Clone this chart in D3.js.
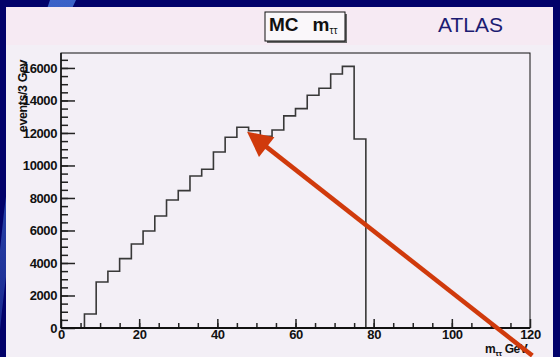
<!DOCTYPE html>
<html>
<head>
<meta charset="utf-8">
<script src="https://cdn.jsdelivr.net/npm/d3@7"></script>
<style>
  html, body { margin: 0; padding: 0; background: #02026a; }
  svg { display: block; }
  .tick-label { font-family: "Liberation Sans", Arial, sans-serif; font-weight: bold; font-size: 13px; fill: #111; letter-spacing: -0.4px; }
  .axis path { display: none; }
  .axis line { stroke: #222; stroke-width: 1.5; }
  .hist { fill: none; stroke: #383838; stroke-width: 1.6; }
</style>
</head>
<body>
<script>
// histogram bins (low edge, GeV) and contents, events / 3 GeV
const binLow = [6, 9, 12, 15, 18, 21, 24, 27, 30, 33, 36, 39, 42, 45, 48, 51, 54, 57, 60, 63, 66, 69, 72, 75];
const binWidth = 3;
const counts = [860, 2830, 3490, 4270, 5170, 5970, 6890, 7880, 8450, 9350, 9770, 10830,
                11740, 12350, 12140, 11790, 12180, 13050, 13500, 14320, 14750, 15630, 16100, 11630];

const xMajor = [0, 20, 40, 60, 80, 100, 120];
const yMajor = [0, 2000, 4000, 6000, 8000, 10000, 12000, 14000, 16000];

// arrow, in data units: from the tail (below the axis) to the tip at the 45-48 GeV bin
const arrowFrom = [120.6, -1700];
const arrowTo = [47.6, 12080];

const W = 560, H = 357;
const plot = { left: 61, right: 530, top: 53, bottom: 328 };

const x = d3.scaleLinear().domain([0, 120]).range([plot.left, plot.right]);
const y = d3.scaleLinear().domain([0, 16920]).range([plot.bottom, plot.top]);

const svg = d3.select("body").append("svg")
  .attr("width", W)
  .attr("height", H);

const defs = svg.append("defs");
const swoosh = defs.append("linearGradient").attr("id", "swoosh")
  .attr("x1", 0).attr("y1", 0).attr("x2", 0).attr("y2", 1);
swoosh.append("stop").attr("offset", 0).attr("stop-color", "#3a62c8");
swoosh.append("stop").attr("offset", 1).attr("stop-color", "#1a2a90");

// slide background
svg.append("rect").attr("width", W).attr("height", H).attr("fill", "#02026a");
svg.append("path")
  .attr("d", "M50,0 L76,0 Q22,110 0,330 L0,250 Q14,100 50,0 Z")
  .attr("fill", "url(#swoosh)");

// canvas
svg.append("rect")
  .attr("x", 6).attr("y", 7).attr("width", 547).attr("height", H - 7)
  .attr("fill", "#f3eff6");
svg.append("rect")
  .attr("x", 6).attr("y", 7).attr("width", 547).attr("height", 38)
  .attr("fill", "#f6eaf3");

// frame
svg.append("rect")
  .attr("x", plot.left).attr("y", plot.top)
  .attr("width", plot.right - plot.left).attr("height", plot.bottom - plot.top)
  .attr("fill", "none").attr("stroke", "#111").attr("stroke-width", 1);

// histogram
const pts = [[binLow[0], 0]]
  .concat(binLow.map((b, i) => [b, counts[i]]))
  .concat([[binLow[binLow.length - 1] + binWidth, 0]]);

svg.append("path")
  .datum(pts)
  .attr("class", "hist")
  .attr("d", d3.line().x(d => x(d[0])).y(d => y(d[1])).curve(d3.curveStepAfter));

// y axis
svg.append("g")
  .attr("class", "axis")
  .attr("transform", `translate(${plot.left},0)`)
  .call(d3.axisLeft(y).tickValues(d3.range(500, 16600, 500)).tickSize(-7).tickFormat(""));
const yAxis = svg.append("g")
  .attr("class", "axis")
  .attr("transform", `translate(${plot.left},0)`)
  .call(d3.axisLeft(y).tickValues(yMajor).tickSize(-14).tickPadding(4).tickFormat(d3.format("d")));
yAxis.selectAll("text").attr("class", "tick-label").attr("fill", null);

// x axis
svg.append("g")
  .attr("class", "axis")
  .attr("transform", `translate(0,${plot.bottom})`)
  .call(d3.axisBottom(x).tickValues(d3.range(5, 120, 5)).tickSize(-5).tickFormat(""));
const xAxis = svg.append("g")
  .attr("class", "axis")
  .attr("transform", `translate(0,${plot.bottom})`)
  .call(d3.axisBottom(x).tickValues(xMajor).tickSize(-9).tickPadding(2));
xAxis.selectAll("text").attr("class", "tick-label").attr("fill", null);

// thicker axis lines
svg.append("line")
  .attr("x1", plot.left).attr("x2", plot.right)
  .attr("y1", plot.bottom).attr("y2", plot.bottom)
  .attr("stroke", "#111").attr("stroke-width", 2);
svg.append("line")
  .attr("x1", plot.left).attr("x2", plot.left)
  .attr("y1", plot.top).attr("y2", plot.bottom)
  .attr("stroke", "#111").attr("stroke-width", 1.5);

// axis titles
svg.append("text")
  .attr("class", "tick-label")
  .attr("transform", "translate(27,96) rotate(-90)")
  .attr("text-anchor", "middle")
  .style("font-size", "12.5px")
  .text("events/3 Gev");

const xt = svg.append("text")
  .attr("class", "tick-label")
  .attr("x", 485).attr("y", 353)
  .style("font-size", "12px");
xt.append("tspan").text("m");
xt.append("tspan").attr("dy", 3).style("font-size", "8px").text("ττ");
xt.append("tspan").attr("dy", -3).attr("dx", 3).text("GeV");

// title box
svg.append("rect")
  .attr("x", 267).attr("y", 14).attr("width", 80).attr("height", 29)
  .attr("fill", "#666");
svg.append("rect")
  .attr("x", 265).attr("y", 12).attr("width", 80).attr("height", 29)
  .attr("fill", "#faf7fa").attr("stroke", "#111").attr("stroke-width", 1);
const title = svg.append("text")
  .attr("x", 269).attr("y", 31)
  .style("font-family", "'Liberation Sans', Arial, sans-serif")
  .style("font-weight", "bold")
  .style("font-size", "19px")
  .attr("fill", "#111");
title.append("tspan").text("MC");
title.append("tspan").attr("dx", 14).text("m");
title.append("tspan").attr("dy", 3).style("font-size", "10px").style("font-weight", "normal").text("ττ");

svg.append("text")
  .attr("x", 438).attr("y", 32)
  .style("font-family", "'Liberation Sans', Arial, sans-serif")
  .style("font-size", "21px")
  .attr("fill", "#1c1c72")
  .text("ATLAS");

// red arrow
const ax0 = x(arrowFrom[0]), ay0 = y(arrowFrom[1]);
const ax1 = x(arrowTo[0]), ay1 = y(arrowTo[1]);
const len = Math.hypot(ax1 - ax0, ay1 - ay0);
const ux = (ax1 - ax0) / len, uy = (ay1 - ay0) / len;
const headLen = 25, headHalf = 12.5;
const bx = ax1 - ux * headLen, by = ay1 - uy * headLen;
svg.append("line")
  .attr("x1", ax0).attr("y1", ay0)
  .attr("x2", bx + ux * 2).attr("y2", by + uy * 2)
  .attr("stroke", "#d03a0c").attr("stroke-width", 4.5);
svg.append("path")
  .attr("d", `M${ax1},${ay1} L${bx - uy * headHalf},${by + ux * headHalf} L${bx + uy * headHalf},${by - ux * headHalf} Z`)
  .attr("fill", "#d03a0c");
</script>
</body>
</html>
